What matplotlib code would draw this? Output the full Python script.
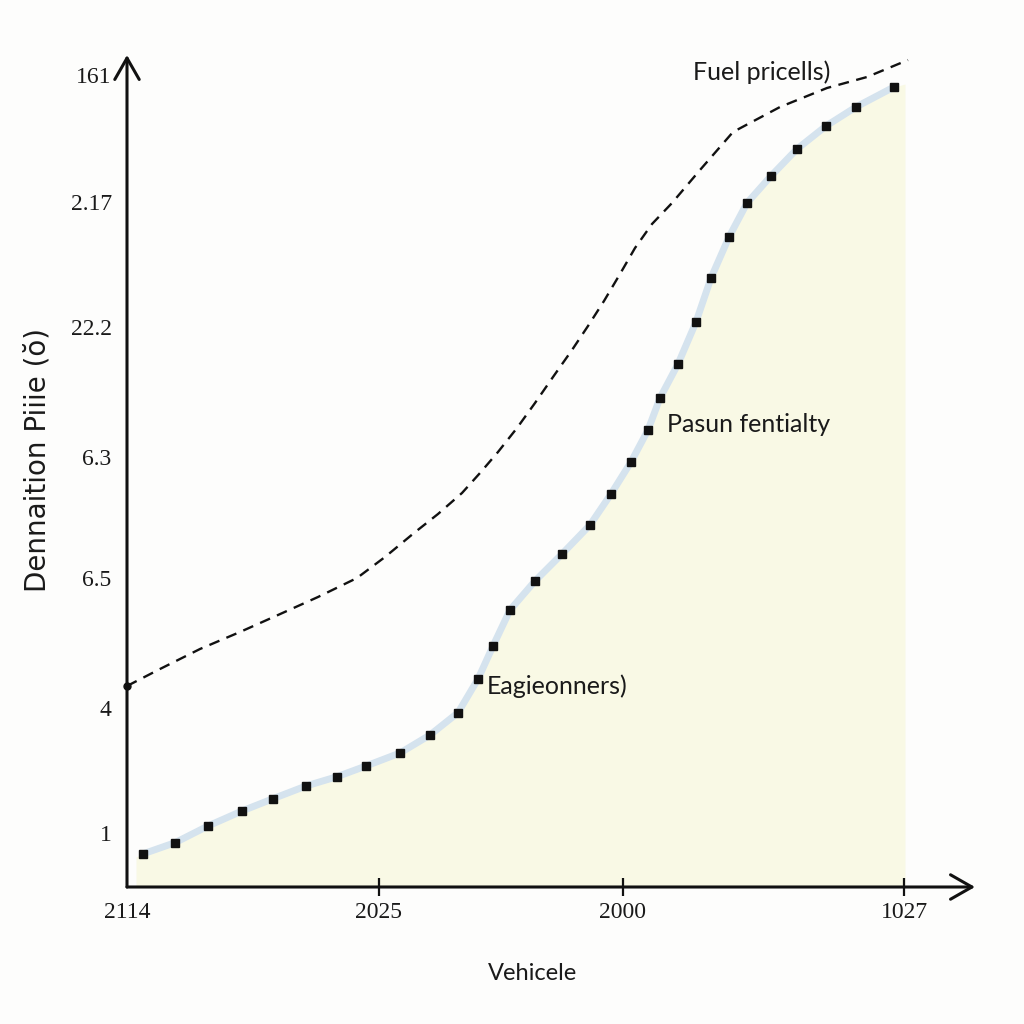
import matplotlib
matplotlib.use("Agg")
import matplotlib.pyplot as plt

# ---- data ----
curve_x = [1.57, 4.8, 8.1, 11.5, 14.6, 17.9, 21.0, 23.9, 27.3, 30.3, 33.1,
           35.1, 36.6, 38.3, 40.8, 43.5, 46.3, 48.4, 50.4, 52.1, 53.3,
           55.1, 56.9, 58.4, 60.2, 62.0, 64.4, 67.0, 69.9, 72.9, 76.7]
curve_y = [3.3, 4.43, 6.1, 7.6, 8.83, 10.1, 11.03, 12.1, 13.4, 15.2, 17.43,
           20.8, 24.1, 27.7, 30.6, 33.3, 36.2, 39.3, 42.5, 45.7, 48.9,
           52.3, 56.5, 60.9, 65.0, 68.4, 71.1, 73.8, 76.1, 78.0, 80.0]
fill_start_x = 0.9
fill_start_y = 3.0
fill_end_x = 77.8
fill_end_y = 80.3

fuel_x = [0.0, 3.3, 7.3, 11.3, 15.1, 19.1, 23.0, 25.8, 28.7, 31.1, 33.5,
          35.3, 37.1, 39.0, 40.8, 42.6, 44.5, 46.1, 47.7, 49.3, 50.8, 52.5,
          54.5, 57.3, 60.6, 65.3, 70.0, 74.0, 78.1]
fuel_y = [20.1, 21.8, 23.8, 25.5, 27.2, 29.0, 30.9, 33.0, 35.4, 37.3, 39.4,
          41.4, 43.5, 45.9, 48.4, 51.0, 53.7, 56.1, 58.6, 61.3, 63.9, 66.3,
          68.4, 71.7, 75.5, 78.0, 79.9, 81.0, 82.7]

ytick_vals = [81.2, 68.5, 56.0, 43.0, 30.9, 17.9, 5.4]
ytick_labels = ["161", "2.17", "22.2", "6.3", "6.5", "4", "1"]
xtick_vals = [0.0, 25.2, 49.6, 77.7]
xtick_labels = ["2114", "2025", "2000", "1027"]

x_label = "Vehicele"
y_label = "Dennaition Piiie (ŏ)"
ann_fuel = "Fuel pricells)"
ann_pasun = "Pasun fentialty"
ann_eagi = "Eagieonners)"

# ---- figure ----
fig = plt.figure(figsize=(10.24, 10.24), dpi=100)
fig.patch.set_facecolor("#fdfdfc")
ax = fig.add_axes([127 / 1024, (1024 - 887) / 1024, (975 - 127) / 1024, (887 - 55) / 1024])
ax.set_facecolor("none")
ax.set_xlim(0, 84.8)
ax.set_ylim(0, 83.2)
for s in ax.spines.values():
    s.set_visible(False)

# fill under curve
fx = [fill_start_x] + curve_x + [fill_end_x]
fy = [fill_start_y] + curve_y + [fill_end_y]
ax.fill_between(fx, fy, 0, color="#f9f9e5", lw=0, zorder=1)

# light blue halo + square markers
ax.plot(curve_x, curve_y, color="#d5e3ee", lw=5, solid_capstyle="round",
        solid_joinstyle="round", zorder=2)
ax.plot(curve_x, curve_y, ls="none", marker="s", ms=5.3, color="#111111", zorder=3)

# dashed line
ax.plot(fuel_x, fuel_y, color="#111111", lw=1.7, dashes=(4.6, 3.2), zorder=3,
        clip_on=False, solid_joinstyle="round", dash_joinstyle="round")
ax.plot(fuel_x[:1], fuel_y[:1], ls="none", marker="o", ms=5, color="#111111",
        zorder=4, clip_on=False)

# axes arrows
arrow_kw = dict(arrowstyle="->,head_length=0.7,head_width=0.4", lw=2.2,
                color="#111111", mutation_scale=22, shrinkA=0, shrinkB=0)
ax.annotate("", xy=(1, 0), xytext=(0, 0), xycoords="axes fraction",
            textcoords="axes fraction", arrowprops=arrow_kw, zorder=5)
ax.annotate("", xy=(0, 1), xytext=(0, 0), xycoords="axes fraction",
            textcoords="axes fraction", arrowprops=arrow_kw, zorder=5)

# ticks
serif = ["Liberation Serif", "DejaVu Serif"]
ax.set_yticks(ytick_vals)
ax.set_yticklabels(ytick_labels, family=serif, fontsize=17, color="#1a1a1a")
ax.tick_params(axis="y", length=0, pad=11)
ax.set_xticks(xtick_vals)
ax.set_xticklabels(xtick_labels, family=serif, fontsize=17, color="#1a1a1a")
ax.tick_params(axis="x", direction="inout", length=13, width=1.6, pad=4,
               color="#111111")
ax.xaxis.get_major_ticks()[0].tick1line.set_visible(False)

# labels
ax.text(0.478, -0.091, x_label, transform=ax.transAxes, ha="center", va="top",
        family=["Lato", "DejaVu Sans"], fontsize=17, color="#1a1a1a")
ax.text(-0.105, 0.513, y_label, transform=ax.transAxes, ha="center", va="center",
        rotation=90, family=["DejaVu Sans"], fontsize=20, color="#1a1a1a")

# annotations
ann_font = dict(family=["Lato", "DejaVu Sans"], fontsize=18, color="#1a1a1a",
                va="center", ha="left")
ax.text(56.6, 81.5, ann_fuel, **ann_font)
ax.text(54.0, 46.3, ann_pasun, **ann_font)
ax.text(36.0, 20.1, ann_eagi, **ann_font)

fig.savefig("out.png", dpi=100, facecolor=fig.get_facecolor())
